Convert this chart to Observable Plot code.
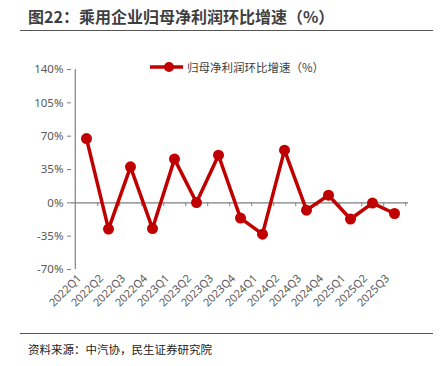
<!DOCTYPE html>
<html><head><meta charset="utf-8">
<script src="https://cdn.jsdelivr.net/npm/d3@7"></script>
<script src="https://cdn.jsdelivr.net/npm/@observablehq/plot@0.6"></script>
<style>
body{margin:0;background:#fff;font-family:"Noto Sans CJK SC","Noto Sans",sans-serif;}
#wrap{position:relative;width:440px;height:366px;overflow:hidden;}
#title{position:absolute;left:28px;top:4px;font-size:16px;font-weight:bold;color:#3f3f3f;white-space:nowrap;}
#tline{position:absolute;left:20px;top:30px;width:413px;height:0;border-top:1.5px solid #555;}
#bline{position:absolute;left:20px;top:333px;width:413px;height:0;border-top:1.5px solid #555;}
#src{position:absolute;left:28px;top:341px;font-size:11.5px;color:#222;white-space:nowrap;}
#chart{position:absolute;left:0;top:34px;}
#legend{position:absolute;left:150px;top:59px;font-size:11.5px;color:#404040;white-space:nowrap;display:flex;align-items:center;}
</style></head>
<body><div id="wrap">
<div id="title">图22：乘用企业归母净利润环比增速（%）</div>
<div id="tline"></div>
<div id="chart"></div>
<div id="legend"><svg width="35" height="14"><line x1="0" y1="7" x2="33" y2="7" stroke="#C00000" stroke-width="3.5"/><circle cx="19" cy="7" r="5" fill="#C00000"/></svg><span style="margin-left:2px">归母净利润环比增速（%）</span></div>
<div id="bline"></div>
<div id="src">资料来源：中汽协，民生证券研究院</div>
</div>
<script>
const quarters = ["2022Q1","2022Q2","2022Q3","2022Q4","2023Q1","2023Q2","2023Q3","2023Q4","2024Q1","2024Q2","2024Q3","2024Q4","2025Q1","2025Q2","2025Q3"];
const growth = [67.5, -27.6, 37.8, -27.0, 45.9, 0.3, 50.0, -16.0, -32.9, 55.3, -7.7, 8.0, -17.0, -0.3, -11.2];
const yTicks = [-70, -35, 0, 35, 70, 105, 140];

const data = quarters.map((q, i) => ({q, v: growth[i]}));
const red = "#C00000";
const W = 440, ML = 71, MR = 32;
const bw = (W - ML - MR) / quarters.length;
const chart = Plot.plot({
  width: W,
  height: 300,
  marginTop: 35,
  marginBottom: 65,
  marginLeft: ML,
  marginRight: MR,
  style: {fontFamily: '"Noto Sans","Noto Sans CJK SC",sans-serif', fontSize: "11px", color: "#595959", background: "white"},
  x: {type: "band", domain: quarters, padding: 0, label: null},
  y: {domain: [-70, 140], ticks: yTicks, label: null},
  marks: [
    Plot.ruleX([quarters[0]], {dx: -bw / 2, y1: -70, y2: 140, stroke: "#7f7f7f", strokeWidth: 1.2}),
    Plot.ruleY([0], {stroke: "#7f7f7f", strokeWidth: 1.3}),
    Plot.ruleX(quarters, {dx: bw / 2, y1: 0, y2: -4, stroke: "#7f7f7f"}),
    Plot.axisY({ticks: yTicks, tickFormat: d => d + "%", tickSize: 4, tickPadding: 4, stroke: "#7f7f7f", fill: "#595959", fontSize: 11.5}),
    Plot.axisX({tickSize: 0, tickRotate: -45, tickPadding: 4, fill: "#595959", fontSize: 11, dx: -7, dy: 3}),
    Plot.line(data, {x: "q", y: "v", stroke: red, strokeWidth: 3.5}),
    Plot.dot(data, {x: "q", y: "v", fill: red, r: 5.5})
  ]
});
document.getElementById("chart").appendChild(chart);
</script>
</body></html>
